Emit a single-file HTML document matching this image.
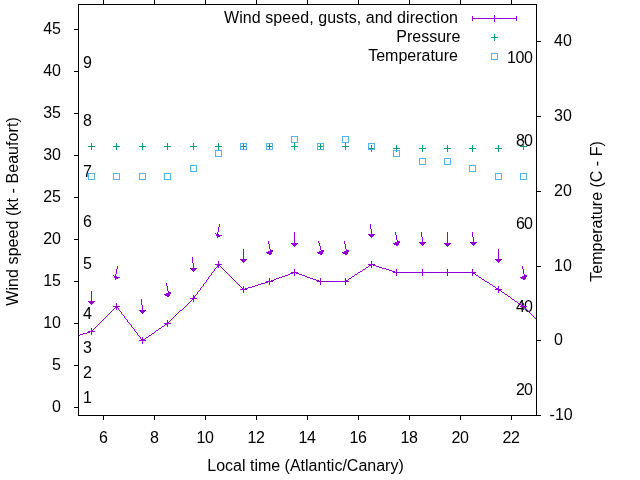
<!DOCTYPE html><html><head><meta charset="utf-8"><style>html,body{margin:0;padding:0;background:#fff;width:640px;height:480px;overflow:hidden}svg{display:block;will-change:transform}text{font-family:"Liberation Sans",sans-serif;font-size:16px;fill:#000}</style></head><body><svg width="640" height="480" viewBox="0 0 640 480"><rect x="0" y="0" width="640" height="480" fill="#fff"/><path d="M103 0h1v1h-1zM154 0h1v1h-1zM205 0h1v1h-1zM256 0h1v1h-1zM307 0h1v1h-1zM358 0h1v1h-1zM409 0h1v1h-1zM460 0h1v1h-1zM511 0h1v1h-1zM103 1h1v1h-1zM154 1h1v1h-1zM205 1h1v1h-1zM256 1h1v1h-1zM307 1h1v1h-1zM358 1h1v1h-1zM409 1h1v1h-1zM460 1h1v1h-1zM511 1h1v1h-1zM103 2h1v1h-1zM154 2h1v1h-1zM205 2h1v1h-1zM256 2h1v1h-1zM307 2h1v1h-1zM358 2h1v1h-1zM409 2h1v1h-1zM460 2h1v1h-1zM511 2h1v1h-1zM103 3h1v1h-1zM154 3h1v1h-1zM205 3h1v1h-1zM256 3h1v1h-1zM307 3h1v1h-1zM358 3h1v1h-1zM409 3h1v1h-1zM460 3h1v1h-1zM511 3h1v1h-1zM78 4h459v1h-459zM78 5h1v1h-1zM536 5h1v1h-1zM78 6h1v1h-1zM536 6h1v1h-1zM78 7h1v1h-1zM536 7h1v1h-1zM78 8h1v1h-1zM536 8h1v1h-1zM78 9h1v1h-1zM536 9h1v1h-1zM78 10h1v1h-1zM536 10h1v1h-1zM78 11h1v1h-1zM536 11h1v1h-1zM78 12h1v1h-1zM536 12h1v1h-1zM78 13h1v1h-1zM536 13h1v1h-1zM78 14h1v1h-1zM536 14h1v1h-1zM78 15h1v1h-1zM536 15h1v1h-1zM78 16h1v1h-1zM536 16h1v1h-1zM78 17h1v1h-1zM536 17h1v1h-1zM78 18h1v1h-1zM536 18h1v1h-1zM78 19h1v1h-1zM536 19h1v1h-1zM78 20h1v1h-1zM536 20h1v1h-1zM78 21h1v1h-1zM536 21h1v1h-1zM78 22h1v1h-1zM536 22h1v1h-1zM78 23h1v1h-1zM536 23h1v1h-1zM78 24h1v1h-1zM536 24h1v1h-1zM78 25h1v1h-1zM536 25h1v1h-1zM78 26h1v1h-1zM536 26h1v1h-1zM78 27h1v1h-1zM536 27h1v1h-1zM78 28h1v1h-1zM536 28h1v1h-1zM74 29h5v1h-5zM536 29h1v1h-1zM78 30h1v1h-1zM536 30h1v1h-1zM78 31h1v1h-1zM536 31h1v1h-1zM78 32h1v1h-1zM536 32h1v1h-1zM78 33h1v1h-1zM536 33h1v1h-1zM78 34h1v1h-1zM536 34h1v1h-1zM78 35h1v1h-1zM536 35h1v1h-1zM78 36h1v1h-1zM536 36h1v1h-1zM78 37h1v1h-1zM536 37h1v1h-1zM78 38h1v1h-1zM536 38h1v1h-1zM78 39h1v1h-1zM536 39h1v1h-1zM78 40h1v1h-1zM536 40h1v1h-1zM78 41h1v1h-1zM536 41h5v1h-5zM78 42h1v1h-1zM536 42h1v1h-1zM78 43h1v1h-1zM536 43h1v1h-1zM78 44h1v1h-1zM536 44h1v1h-1zM78 45h1v1h-1zM536 45h1v1h-1zM78 46h1v1h-1zM536 46h1v1h-1zM78 47h1v1h-1zM536 47h1v1h-1zM78 48h1v1h-1zM536 48h1v1h-1zM78 49h1v1h-1zM536 49h1v1h-1zM78 50h1v1h-1zM536 50h1v1h-1zM78 51h1v1h-1zM536 51h1v1h-1zM78 52h1v1h-1zM536 52h1v1h-1zM78 53h1v1h-1zM536 53h1v1h-1zM78 54h1v1h-1zM536 54h1v1h-1zM78 55h1v1h-1zM536 55h1v1h-1zM78 56h1v1h-1zM536 56h1v1h-1zM78 57h1v1h-1zM536 57h1v1h-1zM78 58h1v1h-1zM536 58h1v1h-1zM78 59h1v1h-1zM536 59h1v1h-1zM78 60h1v1h-1zM536 60h1v1h-1zM78 61h1v1h-1zM536 61h1v1h-1zM78 62h1v1h-1zM536 62h1v1h-1zM78 63h1v1h-1zM536 63h1v1h-1zM78 64h1v1h-1zM536 64h1v1h-1zM78 65h1v1h-1zM536 65h1v1h-1zM78 66h1v1h-1zM536 66h1v1h-1zM78 67h1v1h-1zM536 67h1v1h-1zM78 68h1v1h-1zM536 68h1v1h-1zM78 69h1v1h-1zM536 69h1v1h-1zM78 70h1v1h-1zM536 70h1v1h-1zM74 71h5v1h-5zM536 71h1v1h-1zM78 72h1v1h-1zM536 72h1v1h-1zM78 73h1v1h-1zM536 73h1v1h-1zM78 74h1v1h-1zM536 74h1v1h-1zM78 75h1v1h-1zM536 75h1v1h-1zM78 76h1v1h-1zM536 76h1v1h-1zM78 77h1v1h-1zM536 77h1v1h-1zM78 78h1v1h-1zM536 78h1v1h-1zM78 79h1v1h-1zM536 79h1v1h-1zM78 80h1v1h-1zM536 80h1v1h-1zM78 81h1v1h-1zM536 81h1v1h-1zM78 82h1v1h-1zM536 82h1v1h-1zM78 83h1v1h-1zM536 83h1v1h-1zM78 84h1v1h-1zM536 84h1v1h-1zM78 85h1v1h-1zM536 85h1v1h-1zM78 86h1v1h-1zM536 86h1v1h-1zM78 87h1v1h-1zM536 87h1v1h-1zM78 88h1v1h-1zM536 88h1v1h-1zM78 89h1v1h-1zM536 89h1v1h-1zM78 90h1v1h-1zM536 90h1v1h-1zM78 91h1v1h-1zM536 91h1v1h-1zM78 92h1v1h-1zM536 92h1v1h-1zM78 93h1v1h-1zM536 93h1v1h-1zM78 94h1v1h-1zM536 94h1v1h-1zM78 95h1v1h-1zM536 95h1v1h-1zM78 96h1v1h-1zM536 96h1v1h-1zM78 97h1v1h-1zM536 97h1v1h-1zM78 98h1v1h-1zM536 98h1v1h-1zM78 99h1v1h-1zM536 99h1v1h-1zM78 100h1v1h-1zM536 100h1v1h-1zM78 101h1v1h-1zM536 101h1v1h-1zM78 102h1v1h-1zM536 102h1v1h-1zM78 103h1v1h-1zM536 103h1v1h-1zM78 104h1v1h-1zM536 104h1v1h-1zM78 105h1v1h-1zM536 105h1v1h-1zM78 106h1v1h-1zM536 106h1v1h-1zM78 107h1v1h-1zM536 107h1v1h-1zM78 108h1v1h-1zM536 108h1v1h-1zM78 109h1v1h-1zM536 109h1v1h-1zM78 110h1v1h-1zM536 110h1v1h-1zM78 111h1v1h-1zM536 111h1v1h-1zM78 112h1v1h-1zM536 112h1v1h-1zM74 113h5v1h-5zM536 113h1v1h-1zM78 114h1v1h-1zM536 114h1v1h-1zM78 115h1v1h-1zM536 115h1v1h-1zM78 116h1v1h-1zM536 116h5v1h-5zM78 117h1v1h-1zM536 117h1v1h-1zM78 118h1v1h-1zM536 118h1v1h-1zM78 119h1v1h-1zM536 119h1v1h-1zM78 120h1v1h-1zM536 120h1v1h-1zM78 121h1v1h-1zM536 121h1v1h-1zM78 122h1v1h-1zM536 122h1v1h-1zM78 123h1v1h-1zM536 123h1v1h-1zM78 124h1v1h-1zM536 124h1v1h-1zM78 125h1v1h-1zM536 125h1v1h-1zM78 126h1v1h-1zM536 126h1v1h-1zM78 127h1v1h-1zM536 127h1v1h-1zM78 128h1v1h-1zM536 128h1v1h-1zM78 129h1v1h-1zM536 129h1v1h-1zM78 130h1v1h-1zM536 130h1v1h-1zM78 131h1v1h-1zM536 131h1v1h-1zM78 132h1v1h-1zM536 132h1v1h-1zM78 133h1v1h-1zM536 133h1v1h-1zM78 134h1v1h-1zM536 134h1v1h-1zM78 135h1v1h-1zM536 135h1v1h-1zM78 136h1v1h-1zM536 136h1v1h-1zM78 137h1v1h-1zM536 137h1v1h-1zM78 138h1v1h-1zM536 138h1v1h-1zM78 139h1v1h-1zM536 139h1v1h-1zM78 140h1v1h-1zM536 140h1v1h-1zM78 141h1v1h-1zM536 141h1v1h-1zM78 142h1v1h-1zM536 142h1v1h-1zM78 143h1v1h-1zM536 143h1v1h-1zM78 144h1v1h-1zM536 144h1v1h-1zM78 145h1v1h-1zM536 145h1v1h-1zM78 146h1v1h-1zM536 146h1v1h-1zM78 147h1v1h-1zM536 147h1v1h-1zM78 148h1v1h-1zM536 148h1v1h-1zM78 149h1v1h-1zM536 149h1v1h-1zM78 150h1v1h-1zM536 150h1v1h-1zM78 151h1v1h-1zM536 151h1v1h-1zM78 152h1v1h-1zM536 152h1v1h-1zM78 153h1v1h-1zM536 153h1v1h-1zM78 154h1v1h-1zM536 154h1v1h-1zM74 155h5v1h-5zM536 155h1v1h-1zM78 156h1v1h-1zM536 156h1v1h-1zM78 157h1v1h-1zM536 157h1v1h-1zM78 158h1v1h-1zM536 158h1v1h-1zM78 159h1v1h-1zM536 159h1v1h-1zM78 160h1v1h-1zM536 160h1v1h-1zM78 161h1v1h-1zM536 161h1v1h-1zM78 162h1v1h-1zM536 162h1v1h-1zM78 163h1v1h-1zM536 163h1v1h-1zM78 164h1v1h-1zM536 164h1v1h-1zM78 165h1v1h-1zM536 165h1v1h-1zM78 166h1v1h-1zM536 166h1v1h-1zM78 167h1v1h-1zM536 167h1v1h-1zM78 168h1v1h-1zM536 168h1v1h-1zM78 169h1v1h-1zM536 169h1v1h-1zM78 170h1v1h-1zM536 170h1v1h-1zM78 171h1v1h-1zM536 171h1v1h-1zM78 172h1v1h-1zM536 172h1v1h-1zM78 173h1v1h-1zM536 173h1v1h-1zM78 174h1v1h-1zM536 174h1v1h-1zM78 175h1v1h-1zM536 175h1v1h-1zM78 176h1v1h-1zM536 176h1v1h-1zM78 177h1v1h-1zM536 177h1v1h-1zM78 178h1v1h-1zM536 178h1v1h-1zM78 179h1v1h-1zM536 179h1v1h-1zM78 180h1v1h-1zM536 180h1v1h-1zM78 181h1v1h-1zM536 181h1v1h-1zM78 182h1v1h-1zM536 182h1v1h-1zM78 183h1v1h-1zM536 183h1v1h-1zM78 184h1v1h-1zM536 184h1v1h-1zM78 185h1v1h-1zM536 185h1v1h-1zM78 186h1v1h-1zM536 186h1v1h-1zM78 187h1v1h-1zM536 187h1v1h-1zM78 188h1v1h-1zM536 188h1v1h-1zM78 189h1v1h-1zM536 189h1v1h-1zM78 190h1v1h-1zM536 190h1v1h-1zM78 191h1v1h-1zM536 191h5v1h-5zM78 192h1v1h-1zM536 192h1v1h-1zM78 193h1v1h-1zM536 193h1v1h-1zM78 194h1v1h-1zM536 194h1v1h-1zM78 195h1v1h-1zM536 195h1v1h-1zM78 196h1v1h-1zM536 196h1v1h-1zM74 197h5v1h-5zM536 197h1v1h-1zM78 198h1v1h-1zM536 198h1v1h-1zM78 199h1v1h-1zM536 199h1v1h-1zM78 200h1v1h-1zM536 200h1v1h-1zM78 201h1v1h-1zM536 201h1v1h-1zM78 202h1v1h-1zM536 202h1v1h-1zM78 203h1v1h-1zM536 203h1v1h-1zM78 204h1v1h-1zM536 204h1v1h-1zM78 205h1v1h-1zM536 205h1v1h-1zM78 206h1v1h-1zM536 206h1v1h-1zM78 207h1v1h-1zM536 207h1v1h-1zM78 208h1v1h-1zM536 208h1v1h-1zM78 209h1v1h-1zM536 209h1v1h-1zM78 210h1v1h-1zM536 210h1v1h-1zM78 211h1v1h-1zM536 211h1v1h-1zM78 212h1v1h-1zM536 212h1v1h-1zM78 213h1v1h-1zM536 213h1v1h-1zM78 214h1v1h-1zM536 214h1v1h-1zM78 215h1v1h-1zM536 215h1v1h-1zM78 216h1v1h-1zM536 216h1v1h-1zM78 217h1v1h-1zM536 217h1v1h-1zM78 218h1v1h-1zM536 218h1v1h-1zM78 219h1v1h-1zM536 219h1v1h-1zM78 220h1v1h-1zM536 220h1v1h-1zM78 221h1v1h-1zM536 221h1v1h-1zM78 222h1v1h-1zM536 222h1v1h-1zM78 223h1v1h-1zM536 223h1v1h-1zM78 224h1v1h-1zM536 224h1v1h-1zM78 225h1v1h-1zM536 225h1v1h-1zM78 226h1v1h-1zM536 226h1v1h-1zM78 227h1v1h-1zM536 227h1v1h-1zM78 228h1v1h-1zM536 228h1v1h-1zM78 229h1v1h-1zM536 229h1v1h-1zM78 230h1v1h-1zM536 230h1v1h-1zM78 231h1v1h-1zM536 231h1v1h-1zM78 232h1v1h-1zM536 232h1v1h-1zM78 233h1v1h-1zM536 233h1v1h-1zM78 234h1v1h-1zM536 234h1v1h-1zM78 235h1v1h-1zM536 235h1v1h-1zM78 236h1v1h-1zM536 236h1v1h-1zM78 237h1v1h-1zM536 237h1v1h-1zM78 238h1v1h-1zM536 238h1v1h-1zM74 239h5v1h-5zM536 239h1v1h-1zM78 240h1v1h-1zM536 240h1v1h-1zM78 241h1v1h-1zM536 241h1v1h-1zM78 242h1v1h-1zM536 242h1v1h-1zM78 243h1v1h-1zM536 243h1v1h-1zM78 244h1v1h-1zM536 244h1v1h-1zM78 245h1v1h-1zM536 245h1v1h-1zM78 246h1v1h-1zM536 246h1v1h-1zM78 247h1v1h-1zM536 247h1v1h-1zM78 248h1v1h-1zM536 248h1v1h-1zM78 249h1v1h-1zM536 249h1v1h-1zM78 250h1v1h-1zM536 250h1v1h-1zM78 251h1v1h-1zM536 251h1v1h-1zM78 252h1v1h-1zM536 252h1v1h-1zM78 253h1v1h-1zM536 253h1v1h-1zM78 254h1v1h-1zM536 254h1v1h-1zM78 255h1v1h-1zM536 255h1v1h-1zM78 256h1v1h-1zM536 256h1v1h-1zM78 257h1v1h-1zM536 257h1v1h-1zM78 258h1v1h-1zM536 258h1v1h-1zM78 259h1v1h-1zM536 259h1v1h-1zM78 260h1v1h-1zM536 260h1v1h-1zM78 261h1v1h-1zM536 261h1v1h-1zM78 262h1v1h-1zM536 262h1v1h-1zM78 263h1v1h-1zM536 263h1v1h-1zM78 264h1v1h-1zM536 264h1v1h-1zM78 265h1v1h-1zM536 265h1v1h-1zM78 266h1v1h-1zM536 266h5v1h-5zM78 267h1v1h-1zM536 267h1v1h-1zM78 268h1v1h-1zM536 268h1v1h-1zM78 269h1v1h-1zM536 269h1v1h-1zM78 270h1v1h-1zM536 270h1v1h-1zM78 271h1v1h-1zM536 271h1v1h-1zM78 272h1v1h-1zM536 272h1v1h-1zM78 273h1v1h-1zM536 273h1v1h-1zM78 274h1v1h-1zM536 274h1v1h-1zM78 275h1v1h-1zM536 275h1v1h-1zM78 276h1v1h-1zM536 276h1v1h-1zM78 277h1v1h-1zM536 277h1v1h-1zM78 278h1v1h-1zM536 278h1v1h-1zM78 279h1v1h-1zM536 279h1v1h-1zM78 280h1v1h-1zM536 280h1v1h-1zM74 281h5v1h-5zM536 281h1v1h-1zM78 282h1v1h-1zM536 282h1v1h-1zM78 283h1v1h-1zM536 283h1v1h-1zM78 284h1v1h-1zM536 284h1v1h-1zM78 285h1v1h-1zM536 285h1v1h-1zM78 286h1v1h-1zM536 286h1v1h-1zM78 287h1v1h-1zM536 287h1v1h-1zM78 288h1v1h-1zM536 288h1v1h-1zM78 289h1v1h-1zM536 289h1v1h-1zM78 290h1v1h-1zM536 290h1v1h-1zM78 291h1v1h-1zM536 291h1v1h-1zM78 292h1v1h-1zM536 292h1v1h-1zM78 293h1v1h-1zM536 293h1v1h-1zM78 294h1v1h-1zM536 294h1v1h-1zM78 295h1v1h-1zM536 295h1v1h-1zM78 296h1v1h-1zM536 296h1v1h-1zM78 297h1v1h-1zM536 297h1v1h-1zM78 298h1v1h-1zM536 298h1v1h-1zM78 299h1v1h-1zM536 299h1v1h-1zM78 300h1v1h-1zM536 300h1v1h-1zM78 301h1v1h-1zM536 301h1v1h-1zM78 302h1v1h-1zM536 302h1v1h-1zM78 303h1v1h-1zM536 303h1v1h-1zM78 304h1v1h-1zM536 304h1v1h-1zM78 305h1v1h-1zM536 305h1v1h-1zM78 306h1v1h-1zM536 306h1v1h-1zM78 307h1v1h-1zM536 307h1v1h-1zM78 308h1v1h-1zM536 308h1v1h-1zM78 309h1v1h-1zM536 309h1v1h-1zM78 310h1v1h-1zM536 310h1v1h-1zM78 311h1v1h-1zM536 311h1v1h-1zM78 312h1v1h-1zM536 312h1v1h-1zM78 313h1v1h-1zM536 313h1v1h-1zM78 314h1v1h-1zM536 314h1v1h-1zM78 315h1v1h-1zM536 315h1v1h-1zM78 316h1v1h-1zM536 316h1v1h-1zM78 317h1v1h-1zM536 317h1v1h-1zM78 318h1v1h-1zM536 318h1v1h-1zM78 319h1v1h-1zM536 319h1v1h-1zM78 320h1v1h-1zM536 320h1v1h-1zM78 321h1v1h-1zM536 321h1v1h-1zM78 322h1v1h-1zM536 322h1v1h-1zM74 323h5v1h-5zM536 323h1v1h-1zM78 324h1v1h-1zM536 324h1v1h-1zM78 325h1v1h-1zM536 325h1v1h-1zM78 326h1v1h-1zM536 326h1v1h-1zM78 327h1v1h-1zM536 327h1v1h-1zM78 328h1v1h-1zM536 328h1v1h-1zM78 329h1v1h-1zM536 329h1v1h-1zM78 330h1v1h-1zM536 330h1v1h-1zM78 331h1v1h-1zM536 331h1v1h-1zM78 332h1v1h-1zM536 332h1v1h-1zM78 333h1v1h-1zM536 333h1v1h-1zM78 334h1v1h-1zM536 334h1v1h-1zM78 335h1v1h-1zM536 335h1v1h-1zM78 336h1v1h-1zM536 336h1v1h-1zM78 337h1v1h-1zM536 337h1v1h-1zM78 338h1v1h-1zM536 338h1v1h-1zM78 339h1v1h-1zM536 339h1v1h-1zM78 340h1v1h-1zM536 340h5v1h-5zM78 341h1v1h-1zM536 341h1v1h-1zM78 342h1v1h-1zM536 342h1v1h-1zM78 343h1v1h-1zM536 343h1v1h-1zM78 344h1v1h-1zM536 344h1v1h-1zM78 345h1v1h-1zM536 345h1v1h-1zM78 346h1v1h-1zM536 346h1v1h-1zM78 347h1v1h-1zM536 347h1v1h-1zM78 348h1v1h-1zM536 348h1v1h-1zM78 349h1v1h-1zM536 349h1v1h-1zM78 350h1v1h-1zM536 350h1v1h-1zM78 351h1v1h-1zM536 351h1v1h-1zM78 352h1v1h-1zM536 352h1v1h-1zM78 353h1v1h-1zM536 353h1v1h-1zM78 354h1v1h-1zM536 354h1v1h-1zM78 355h1v1h-1zM536 355h1v1h-1zM78 356h1v1h-1zM536 356h1v1h-1zM78 357h1v1h-1zM536 357h1v1h-1zM78 358h1v1h-1zM536 358h1v1h-1zM78 359h1v1h-1zM536 359h1v1h-1zM78 360h1v1h-1zM536 360h1v1h-1zM78 361h1v1h-1zM536 361h1v1h-1zM78 362h1v1h-1zM536 362h1v1h-1zM78 363h1v1h-1zM536 363h1v1h-1zM78 364h1v1h-1zM536 364h1v1h-1zM74 365h5v1h-5zM536 365h1v1h-1zM78 366h1v1h-1zM536 366h1v1h-1zM78 367h1v1h-1zM536 367h1v1h-1zM78 368h1v1h-1zM536 368h1v1h-1zM78 369h1v1h-1zM536 369h1v1h-1zM78 370h1v1h-1zM536 370h1v1h-1zM78 371h1v1h-1zM536 371h1v1h-1zM78 372h1v1h-1zM536 372h1v1h-1zM78 373h1v1h-1zM536 373h1v1h-1zM78 374h1v1h-1zM536 374h1v1h-1zM78 375h1v1h-1zM536 375h1v1h-1zM78 376h1v1h-1zM536 376h1v1h-1zM78 377h1v1h-1zM536 377h1v1h-1zM78 378h1v1h-1zM536 378h1v1h-1zM78 379h1v1h-1zM536 379h1v1h-1zM78 380h1v1h-1zM536 380h1v1h-1zM78 381h1v1h-1zM536 381h1v1h-1zM78 382h1v1h-1zM536 382h1v1h-1zM78 383h1v1h-1zM536 383h1v1h-1zM78 384h1v1h-1zM536 384h1v1h-1zM78 385h1v1h-1zM536 385h1v1h-1zM78 386h1v1h-1zM536 386h1v1h-1zM78 387h1v1h-1zM536 387h1v1h-1zM78 388h1v1h-1zM536 388h1v1h-1zM78 389h1v1h-1zM536 389h1v1h-1zM78 390h1v1h-1zM536 390h1v1h-1zM78 391h1v1h-1zM536 391h1v1h-1zM78 392h1v1h-1zM536 392h1v1h-1zM78 393h1v1h-1zM536 393h1v1h-1zM78 394h1v1h-1zM536 394h1v1h-1zM78 395h1v1h-1zM536 395h1v1h-1zM78 396h1v1h-1zM536 396h1v1h-1zM78 397h1v1h-1zM536 397h1v1h-1zM78 398h1v1h-1zM536 398h1v1h-1zM78 399h1v1h-1zM536 399h1v1h-1zM78 400h1v1h-1zM536 400h1v1h-1zM78 401h1v1h-1zM536 401h1v1h-1zM78 402h1v1h-1zM536 402h1v1h-1zM78 403h1v1h-1zM536 403h1v1h-1zM78 404h1v1h-1zM536 404h1v1h-1zM78 405h1v1h-1zM536 405h1v1h-1zM78 406h1v1h-1zM536 406h1v1h-1zM74 407h5v1h-5zM536 407h1v1h-1zM78 408h1v1h-1zM536 408h1v1h-1zM78 409h1v1h-1zM536 409h1v1h-1zM78 410h1v1h-1zM536 410h1v1h-1zM78 411h1v1h-1zM536 411h1v1h-1zM78 412h1v1h-1zM536 412h1v1h-1zM78 413h1v1h-1zM536 413h1v1h-1zM78 414h1v1h-1zM536 414h1v1h-1zM78 415h463v1h-463zM103 416h1v1h-1zM154 416h1v1h-1zM205 416h1v1h-1zM256 416h1v1h-1zM307 416h1v1h-1zM358 416h1v1h-1zM409 416h1v1h-1zM460 416h1v1h-1zM511 416h1v1h-1zM103 417h1v1h-1zM154 417h1v1h-1zM205 417h1v1h-1zM256 417h1v1h-1zM307 417h1v1h-1zM358 417h1v1h-1zM409 417h1v1h-1zM460 417h1v1h-1zM511 417h1v1h-1zM103 418h1v1h-1zM154 418h1v1h-1zM205 418h1v1h-1zM256 418h1v1h-1zM307 418h1v1h-1zM358 418h1v1h-1zM409 418h1v1h-1zM460 418h1v1h-1zM511 418h1v1h-1zM103 419h1v1h-1zM154 419h1v1h-1zM205 419h1v1h-1zM256 419h1v1h-1zM307 419h1v1h-1zM358 419h1v1h-1zM409 419h1v1h-1zM460 419h1v1h-1zM511 419h1v1h-1z" fill="#000" shape-rendering="crispEdges"/><text x="61" y="412" text-anchor="end">0</text><text x="61" y="370" text-anchor="end">5</text><text x="61" y="328" text-anchor="end">10</text><text x="61" y="286" text-anchor="end">15</text><text x="61" y="244" text-anchor="end">20</text><text x="61" y="202" text-anchor="end">25</text><text x="61" y="160" text-anchor="end">30</text><text x="61" y="118" text-anchor="end">35</text><text x="61" y="76" text-anchor="end">40</text><text x="61" y="34" text-anchor="end">45</text><text x="103.5" y="443" text-anchor="middle">6</text><text x="154.5" y="443" text-anchor="middle">8</text><text x="205.1" y="443" text-anchor="middle" textLength="17.4" lengthAdjust="spacing">10</text><text x="256.1" y="443" text-anchor="middle" textLength="17.4" lengthAdjust="spacing">12</text><text x="307.1" y="443" text-anchor="middle" textLength="17.4" lengthAdjust="spacing">14</text><text x="358.1" y="443" text-anchor="middle" textLength="17.4" lengthAdjust="spacing">16</text><text x="409.1" y="443" text-anchor="middle" textLength="17.4" lengthAdjust="spacing">18</text><text x="460.1" y="443" text-anchor="middle" textLength="17.4" lengthAdjust="spacing">20</text><text x="511.1" y="443" text-anchor="middle" textLength="17.4" lengthAdjust="spacing">22</text><text x="549.6" y="420" text-anchor="start" xml:space="preserve">-10</text><text x="549.6" y="345" text-anchor="start" xml:space="preserve"> 0</text><text x="549.6" y="271" text-anchor="start" xml:space="preserve"> 10</text><text x="549.6" y="196" text-anchor="start" xml:space="preserve"> 20</text><text x="549.6" y="121" text-anchor="start" xml:space="preserve"> 30</text><text x="549.6" y="46" text-anchor="start" xml:space="preserve"> 40</text><text x="305.5" y="470.5" text-anchor="middle">Local time (Atlantic/Canary)</text><text transform="translate(18,211.45) rotate(-90)" text-anchor="middle" textLength="188.5" lengthAdjust="spacing">Wind speed (kt - Beaufort)</text><text transform="translate(602,211.5) rotate(-90)" text-anchor="middle">Temperature (C - F)</text><text x="458" y="22.5" text-anchor="end" textLength="233.9" lengthAdjust="spacing">Wind speed, gusts, and direction</text><text x="460.3" y="42.4" text-anchor="end">Pressure</text><text x="458" y="60.9" text-anchor="end">Temperature</text><text x="83" y="403.1" text-anchor="start">1</text><text x="83" y="378.1" text-anchor="start">2</text><text x="83" y="352.9" text-anchor="start">3</text><text x="83" y="318.5" text-anchor="start">4</text><text x="83" y="268.9" text-anchor="start">5</text><text x="83" y="226.7" text-anchor="start">6</text><text x="83" y="176.7" text-anchor="start">7</text><text x="83" y="125.5" text-anchor="start">8</text><text x="83" y="67.5" text-anchor="start">9</text><text x="533" y="394.5" text-anchor="end" textLength="17.0" lengthAdjust="spacing">20</text><text x="533" y="311.9" text-anchor="end" textLength="17.0" lengthAdjust="spacing">40</text><text x="533" y="229.2" text-anchor="end" textLength="17.0" lengthAdjust="spacing">60</text><text x="533" y="145.5" text-anchor="end" textLength="17.0" lengthAdjust="spacing">80</text><text x="533" y="62.5" text-anchor="end" textLength="25.9" lengthAdjust="spacing">100</text><path d="M494 15h1v1h-1zM472 16h1v1h-1zM494 16h1v1h-1zM516 16h1v1h-1zM472 17h1v1h-1zM494 17h1v1h-1zM516 17h1v1h-1zM472 18h45v1h-45zM472 19h1v1h-1zM494 19h1v1h-1zM516 19h1v1h-1zM472 20h1v1h-1zM494 20h1v1h-1zM516 20h1v1h-1zM494 21h1v1h-1zM219 224h1v1h-1zM370 224h1v1h-1zM219 225h1v1h-1zM370 225h1v1h-1zM219 226h1v1h-1zM370 226h1v1h-1zM218 227h1v1h-1zM370 227h1v1h-1zM218 228h1v1h-1zM370 228h1v1h-1zM218 229h1v1h-1zM371 229h1v1h-1zM218 230h1v1h-1zM371 230h1v1h-1zM218 231h1v1h-1zM371 231h1v1h-1zM217 232h1v1h-1zM294 232h1v1h-1zM371 232h1v1h-1zM395 232h1v1h-1zM421 232h1v1h-1zM447 232h1v1h-1zM472 232h1v1h-1zM215 233h1v1h-1zM217 233h1v1h-1zM294 233h1v1h-1zM371 233h1v1h-1zM395 233h1v1h-1zM421 233h1v1h-1zM447 233h1v1h-1zM472 233h1v1h-1zM216 234h3v1h-3zM294 234h1v1h-1zM368 234h7v1h-7zM395 234h1v1h-1zM421 234h1v1h-1zM447 234h1v1h-1zM472 234h1v1h-1zM216 235h6v1h-6zM294 235h1v1h-1zM369 235h5v1h-5zM396 235h1v1h-1zM421 235h1v1h-1zM447 235h1v1h-1zM472 235h1v1h-1zM217 236h3v1h-3zM294 236h1v1h-1zM370 236h3v1h-3zM396 236h1v1h-1zM421 236h1v1h-1zM447 236h1v1h-1zM472 236h1v1h-1zM217 237h1v1h-1zM294 237h1v1h-1zM371 237h1v1h-1zM396 237h1v1h-1zM422 237h1v1h-1zM447 237h1v1h-1zM473 237h1v1h-1zM294 238h1v1h-1zM396 238h1v1h-1zM422 238h1v1h-1zM447 238h1v1h-1zM473 238h1v1h-1zM294 239h1v1h-1zM396 239h1v1h-1zM422 239h1v1h-1zM447 239h1v1h-1zM473 239h1v1h-1zM294 240h1v1h-1zM397 240h1v1h-1zM422 240h1v1h-1zM447 240h1v1h-1zM473 240h1v1h-1zM268 241h1v1h-1zM294 241h1v1h-1zM318 241h1v1h-1zM344 241h1v1h-1zM397 241h3v1h-3zM422 241h1v1h-1zM447 241h1v1h-1zM473 241h1v1h-1zM268 242h1v1h-1zM294 242h1v1h-1zM318 242h1v1h-1zM344 242h1v1h-1zM395 242h5v1h-5zM419 242h7v1h-7zM447 242h1v1h-1zM470 242h7v1h-7zM268 243h1v1h-1zM291 243h7v1h-7zM319 243h1v1h-1zM344 243h1v1h-1zM393 243h6v1h-6zM420 243h5v1h-5zM444 243h7v1h-7zM471 243h5v1h-5zM269 244h1v1h-1zM292 244h5v1h-5zM319 244h1v1h-1zM345 244h1v1h-1zM394 244h5v1h-5zM421 244h3v1h-3zM445 244h5v1h-5zM472 244h3v1h-3zM269 245h1v1h-1zM293 245h3v1h-3zM319 245h1v1h-1zM345 245h1v1h-1zM396 245h2v1h-2zM422 245h1v1h-1zM446 245h3v1h-3zM473 245h1v1h-1zM269 246h1v1h-1zM294 246h1v1h-1zM320 246h1v1h-1zM345 246h1v1h-1zM447 246h1v1h-1zM269 247h1v1h-1zM320 247h1v1h-1zM345 247h1v1h-1zM269 248h1v1h-1zM320 248h1v1h-1zM345 248h1v1h-1zM243 249h1v1h-1zM270 249h1v1h-1zM320 249h1v1h-1zM346 249h1v1h-1zM498 249h1v1h-1zM243 250h1v1h-1zM270 250h3v1h-3zM321 250h3v1h-3zM346 250h3v1h-3zM498 250h1v1h-1zM243 251h1v1h-1zM268 251h5v1h-5zM319 251h5v1h-5zM344 251h5v1h-5zM498 251h1v1h-1zM243 252h1v1h-1zM266 252h6v1h-6zM317 252h6v1h-6zM342 252h6v1h-6zM498 252h1v1h-1zM243 253h1v1h-1zM267 253h5v1h-5zM318 253h5v1h-5zM343 253h5v1h-5zM498 253h1v1h-1zM243 254h1v1h-1zM269 254h2v1h-2zM320 254h2v1h-2zM345 254h2v1h-2zM498 254h1v1h-1zM243 255h1v1h-1zM498 255h1v1h-1zM243 256h1v1h-1zM498 256h1v1h-1zM192 257h1v1h-1zM243 257h1v1h-1zM498 257h1v1h-1zM192 258h1v1h-1zM243 258h1v1h-1zM498 258h1v1h-1zM192 259h1v1h-1zM240 259h7v1h-7zM495 259h7v1h-7zM192 260h1v1h-1zM241 260h5v1h-5zM496 260h5v1h-5zM192 261h1v1h-1zM218 261h1v1h-1zM242 261h3v1h-3zM371 261h1v1h-1zM497 261h3v1h-3zM192 262h1v1h-1zM218 262h1v1h-1zM243 262h1v1h-1zM371 262h1v1h-1zM498 262h1v1h-1zM193 263h1v1h-1zM218 263h1v1h-1zM371 263h1v1h-1zM193 264h1v1h-1zM215 264h7v1h-7zM368 264h7v1h-7zM193 265h1v1h-1zM217 265h3v1h-3zM369 265h3v1h-3zM373 265h3v1h-3zM117 266h1v1h-1zM193 266h1v1h-1zM217 266h2v1h-2zM220 266h1v1h-1zM368 266h1v1h-1zM371 266h1v1h-1zM376 266h3v1h-3zM522 266h1v1h-1zM117 267h1v1h-1zM193 267h1v1h-1zM216 267h1v1h-1zM218 267h1v1h-1zM221 267h1v1h-1zM366 267h2v1h-2zM371 267h1v1h-1zM379 267h3v1h-3zM522 267h1v1h-1zM117 268h1v1h-1zM190 268h7v1h-7zM215 268h1v1h-1zM222 268h1v1h-1zM365 268h1v1h-1zM382 268h4v1h-4zM522 268h1v1h-1zM116 269h1v1h-1zM191 269h5v1h-5zM214 269h1v1h-1zM223 269h1v1h-1zM294 269h1v1h-1zM363 269h2v1h-2zM386 269h3v1h-3zM396 269h1v1h-1zM422 269h1v1h-1zM447 269h1v1h-1zM472 269h1v1h-1zM523 269h1v1h-1zM116 270h1v1h-1zM192 270h3v1h-3zM214 270h1v1h-1zM224 270h1v1h-1zM294 270h1v1h-1zM362 270h1v1h-1zM389 270h3v1h-3zM396 270h1v1h-1zM422 270h1v1h-1zM447 270h1v1h-1zM472 270h1v1h-1zM523 270h1v1h-1zM116 271h1v1h-1zM193 271h1v1h-1zM213 271h1v1h-1zM225 271h1v1h-1zM294 271h1v1h-1zM360 271h2v1h-2zM392 271h3v1h-3zM396 271h1v1h-1zM422 271h1v1h-1zM447 271h1v1h-1zM472 271h1v1h-1zM523 271h1v1h-1zM116 272h1v1h-1zM212 272h1v1h-1zM226 272h1v1h-1zM291 272h7v1h-7zM358 272h2v1h-2zM393 272h83v1h-83zM523 272h1v1h-1zM116 273h1v1h-1zM211 273h1v1h-1zM227 273h1v1h-1zM290 273h3v1h-3zM294 273h1v1h-1zM296 273h3v1h-3zM357 273h1v1h-1zM396 273h1v1h-1zM422 273h1v1h-1zM447 273h1v1h-1zM472 273h3v1h-3zM523 273h1v1h-1zM115 274h1v1h-1zM211 274h1v1h-1zM228 274h1v1h-1zM288 274h2v1h-2zM294 274h1v1h-1zM299 274h3v1h-3zM355 274h2v1h-2zM396 274h1v1h-1zM422 274h1v1h-1zM447 274h1v1h-1zM472 274h1v1h-1zM475 274h1v1h-1zM524 274h1v1h-1zM113 275h1v1h-1zM115 275h1v1h-1zM210 275h1v1h-1zM229 275h1v1h-1zM285 275h3v1h-3zM294 275h1v1h-1zM302 275h3v1h-3zM354 275h1v1h-1zM396 275h1v1h-1zM422 275h1v1h-1zM447 275h1v1h-1zM472 275h1v1h-1zM476 275h2v1h-2zM524 275h3v1h-3zM114 276h3v1h-3zM209 276h1v1h-1zM230 276h1v1h-1zM282 276h3v1h-3zM305 276h2v1h-2zM352 276h2v1h-2zM478 276h1v1h-1zM522 276h5v1h-5zM114 277h6v1h-6zM208 277h1v1h-1zM231 277h1v1h-1zM279 277h3v1h-3zM307 277h3v1h-3zM351 277h1v1h-1zM479 277h2v1h-2zM520 277h6v1h-6zM115 278h3v1h-3zM208 278h1v1h-1zM232 278h1v1h-1zM269 278h1v1h-1zM276 278h3v1h-3zM310 278h3v1h-3zM320 278h1v1h-1zM345 278h1v1h-1zM349 278h2v1h-2zM481 278h1v1h-1zM521 278h5v1h-5zM115 279h1v1h-1zM207 279h1v1h-1zM233 279h1v1h-1zM269 279h1v1h-1zM274 279h2v1h-2zM313 279h3v1h-3zM320 279h1v1h-1zM345 279h1v1h-1zM348 279h1v1h-1zM482 279h2v1h-2zM523 279h2v1h-2zM206 280h1v1h-1zM234 280h1v1h-1zM269 280h1v1h-1zM271 280h3v1h-3zM316 280h3v1h-3zM320 280h1v1h-1zM345 280h3v1h-3zM484 280h1v1h-1zM206 281h1v1h-1zM235 281h1v1h-1zM266 281h7v1h-7zM317 281h32v1h-32zM485 281h2v1h-2zM205 282h1v1h-1zM236 282h1v1h-1zM265 282h3v1h-3zM269 282h1v1h-1zM320 282h1v1h-1zM345 282h1v1h-1zM487 282h2v1h-2zM166 283h1v1h-1zM204 283h1v1h-1zM237 283h1v1h-1zM261 283h4v1h-4zM269 283h1v1h-1zM320 283h1v1h-1zM345 283h1v1h-1zM489 283h1v1h-1zM166 284h1v1h-1zM203 284h1v1h-1zM238 284h1v1h-1zM258 284h3v1h-3zM269 284h1v1h-1zM320 284h1v1h-1zM345 284h1v1h-1zM490 284h2v1h-2zM166 285h1v1h-1zM203 285h1v1h-1zM239 285h1v1h-1zM255 285h3v1h-3zM492 285h1v1h-1zM167 286h1v1h-1zM202 286h1v1h-1zM240 286h1v1h-1zM243 286h1v1h-1zM252 286h3v1h-3zM493 286h2v1h-2zM498 286h1v1h-1zM167 287h1v1h-1zM201 287h1v1h-1zM241 287h1v1h-1zM243 287h1v1h-1zM248 287h4v1h-4zM495 287h1v1h-1zM498 287h1v1h-1zM167 288h1v1h-1zM200 288h1v1h-1zM242 288h2v1h-2zM245 288h3v1h-3zM496 288h3v1h-3zM167 289h1v1h-1zM200 289h1v1h-1zM240 289h7v1h-7zM495 289h7v1h-7zM167 290h1v1h-1zM199 290h1v1h-1zM243 290h1v1h-1zM498 290h3v1h-3zM91 291h1v1h-1zM168 291h1v1h-1zM198 291h1v1h-1zM243 291h1v1h-1zM498 291h1v1h-1zM501 291h1v1h-1zM91 292h1v1h-1zM168 292h3v1h-3zM197 292h1v1h-1zM243 292h1v1h-1zM498 292h1v1h-1zM502 292h2v1h-2zM91 293h1v1h-1zM166 293h5v1h-5zM197 293h1v1h-1zM504 293h1v1h-1zM91 294h1v1h-1zM164 294h6v1h-6zM196 294h1v1h-1zM505 294h2v1h-2zM91 295h1v1h-1zM165 295h5v1h-5zM193 295h1v1h-1zM195 295h1v1h-1zM507 295h1v1h-1zM91 296h1v1h-1zM167 296h2v1h-2zM193 296h2v1h-2zM508 296h2v1h-2zM91 297h1v1h-1zM193 297h2v1h-2zM510 297h1v1h-1zM91 298h1v1h-1zM190 298h7v1h-7zM511 298h1v1h-1zM91 299h1v1h-1zM141 299h1v1h-1zM192 299h2v1h-2zM512 299h2v1h-2zM91 300h1v1h-1zM141 300h1v1h-1zM191 300h1v1h-1zM193 300h1v1h-1zM514 300h1v1h-1zM88 301h7v1h-7zM141 301h1v1h-1zM190 301h1v1h-1zM193 301h1v1h-1zM515 301h2v1h-2zM89 302h5v1h-5zM141 302h1v1h-1zM189 302h1v1h-1zM517 302h1v1h-1zM90 303h3v1h-3zM116 303h1v1h-1zM141 303h1v1h-1zM188 303h1v1h-1zM518 303h2v1h-2zM523 303h1v1h-1zM91 304h1v1h-1zM116 304h1v1h-1zM141 304h1v1h-1zM187 304h1v1h-1zM520 304h1v1h-1zM523 304h1v1h-1zM116 305h1v1h-1zM142 305h1v1h-1zM186 305h1v1h-1zM521 305h3v1h-3zM113 306h7v1h-7zM142 306h1v1h-1zM185 306h1v1h-1zM520 306h7v1h-7zM115 307h3v1h-3zM142 307h1v1h-1zM184 307h1v1h-1zM523 307h2v1h-2zM114 308h1v1h-1zM116 308h1v1h-1zM118 308h1v1h-1zM142 308h1v1h-1zM183 308h1v1h-1zM523 308h1v1h-1zM525 308h1v1h-1zM113 309h1v1h-1zM116 309h1v1h-1zM118 309h1v1h-1zM142 309h1v1h-1zM182 309h1v1h-1zM523 309h1v1h-1zM526 309h1v1h-1zM112 310h1v1h-1zM119 310h1v1h-1zM139 310h7v1h-7zM180 310h2v1h-2zM527 310h1v1h-1zM111 311h1v1h-1zM120 311h1v1h-1zM140 311h5v1h-5zM179 311h1v1h-1zM528 311h1v1h-1zM110 312h1v1h-1zM121 312h1v1h-1zM141 312h3v1h-3zM178 312h1v1h-1zM529 312h1v1h-1zM109 313h1v1h-1zM121 313h1v1h-1zM142 313h1v1h-1zM177 313h1v1h-1zM530 313h1v1h-1zM108 314h1v1h-1zM122 314h1v1h-1zM176 314h1v1h-1zM531 314h1v1h-1zM107 315h1v1h-1zM123 315h1v1h-1zM175 315h1v1h-1zM532 315h1v1h-1zM106 316h1v1h-1zM124 316h1v1h-1zM174 316h1v1h-1zM533 316h1v1h-1zM105 317h1v1h-1zM124 317h1v1h-1zM173 317h1v1h-1zM534 317h1v1h-1zM104 318h1v1h-1zM125 318h1v1h-1zM172 318h1v1h-1zM535 318h1v1h-1zM103 319h1v1h-1zM126 319h1v1h-1zM171 319h1v1h-1zM102 320h1v1h-1zM127 320h1v1h-1zM167 320h1v1h-1zM170 320h1v1h-1zM101 321h1v1h-1zM127 321h1v1h-1zM167 321h1v1h-1zM169 321h1v1h-1zM100 322h1v1h-1zM128 322h1v1h-1zM167 322h2v1h-2zM99 323h1v1h-1zM129 323h1v1h-1zM164 323h7v1h-7zM98 324h1v1h-1zM130 324h1v1h-1zM165 324h3v1h-3zM97 325h1v1h-1zM131 325h1v1h-1zM164 325h1v1h-1zM167 325h1v1h-1zM96 326h1v1h-1zM131 326h1v1h-1zM162 326h2v1h-2zM167 326h1v1h-1zM95 327h1v1h-1zM132 327h1v1h-1zM161 327h1v1h-1zM91 328h1v1h-1zM94 328h1v1h-1zM133 328h1v1h-1zM159 328h2v1h-2zM91 329h1v1h-1zM93 329h1v1h-1zM134 329h1v1h-1zM158 329h1v1h-1zM91 330h2v1h-2zM134 330h1v1h-1zM156 330h2v1h-2zM88 331h7v1h-7zM135 331h1v1h-1zM155 331h1v1h-1zM87 332h3v1h-3zM91 332h1v1h-1zM136 332h1v1h-1zM154 332h1v1h-1zM83 333h4v1h-4zM91 333h1v1h-1zM137 333h1v1h-1zM152 333h2v1h-2zM80 334h3v1h-3zM91 334h1v1h-1zM137 334h1v1h-1zM151 334h1v1h-1zM79 335h1v1h-1zM138 335h1v1h-1zM149 335h2v1h-2zM139 336h1v1h-1zM148 336h1v1h-1zM140 337h1v1h-1zM142 337h1v1h-1zM146 337h2v1h-2zM140 338h1v1h-1zM142 338h1v1h-1zM145 338h1v1h-1zM141 339h4v1h-4zM139 340h7v1h-7zM142 341h1v1h-1zM142 342h1v1h-1zM142 343h1v1h-1z" fill="#9400d3" shape-rendering="crispEdges"/><path d="M494 34h1v1h-1zM494 35h1v1h-1zM494 36h1v1h-1zM491 37h7v1h-7zM494 38h1v1h-1zM494 39h1v1h-1zM494 40h1v1h-1zM91 143h1v1h-1zM116 143h1v1h-1zM142 143h1v1h-1zM167 143h1v1h-1zM193 143h1v1h-1zM218 143h1v1h-1zM294 143h1v1h-1zM345 143h1v1h-1zM523 143h1v1h-1zM91 144h1v1h-1zM116 144h1v1h-1zM142 144h1v1h-1zM167 144h1v1h-1zM193 144h1v1h-1zM218 144h1v1h-1zM243 144h1v1h-1zM269 144h1v1h-1zM294 144h1v1h-1zM320 144h1v1h-1zM345 144h1v1h-1zM523 144h1v1h-1zM91 145h1v1h-1zM116 145h1v1h-1zM142 145h1v1h-1zM167 145h1v1h-1zM193 145h1v1h-1zM218 145h1v1h-1zM243 145h1v1h-1zM269 145h1v1h-1zM294 145h1v1h-1zM320 145h1v1h-1zM345 145h1v1h-1zM371 145h1v1h-1zM396 145h1v1h-1zM422 145h1v1h-1zM447 145h1v1h-1zM472 145h1v1h-1zM498 145h1v1h-1zM523 145h1v1h-1zM88 146h7v1h-7zM113 146h7v1h-7zM139 146h7v1h-7zM164 146h7v1h-7zM190 146h7v1h-7zM215 146h7v1h-7zM241 146h5v1h-5zM267 146h5v1h-5zM291 146h7v1h-7zM318 146h5v1h-5zM342 146h7v1h-7zM371 146h1v1h-1zM396 146h1v1h-1zM422 146h1v1h-1zM447 146h1v1h-1zM472 146h1v1h-1zM498 146h1v1h-1zM520 146h7v1h-7zM91 147h1v1h-1zM116 147h1v1h-1zM142 147h1v1h-1zM167 147h1v1h-1zM193 147h1v1h-1zM218 147h1v1h-1zM243 147h1v1h-1zM269 147h1v1h-1zM294 147h1v1h-1zM320 147h1v1h-1zM345 147h1v1h-1zM371 147h1v1h-1zM396 147h1v1h-1zM422 147h1v1h-1zM447 147h1v1h-1zM472 147h1v1h-1zM498 147h1v1h-1zM523 147h1v1h-1zM91 148h1v1h-1zM116 148h1v1h-1zM142 148h1v1h-1zM167 148h1v1h-1zM193 148h1v1h-1zM218 148h1v1h-1zM243 148h1v1h-1zM269 148h1v1h-1zM294 148h1v1h-1zM320 148h1v1h-1zM345 148h1v1h-1zM369 148h5v1h-5zM393 148h7v1h-7zM419 148h7v1h-7zM444 148h7v1h-7zM469 148h7v1h-7zM495 148h7v1h-7zM523 148h1v1h-1zM91 149h1v1h-1zM116 149h1v1h-1zM142 149h1v1h-1zM167 149h1v1h-1zM193 149h1v1h-1zM218 149h1v1h-1zM294 149h1v1h-1zM345 149h1v1h-1zM396 149h1v1h-1zM422 149h1v1h-1zM447 149h1v1h-1zM472 149h1v1h-1zM498 149h1v1h-1zM523 149h1v1h-1zM371 150h1v1h-1zM422 150h1v1h-1zM447 150h1v1h-1zM472 150h1v1h-1zM498 150h1v1h-1zM371 151h1v1h-1zM396 151h1v1h-1zM422 151h1v1h-1zM447 151h1v1h-1zM472 151h1v1h-1zM498 151h1v1h-1z" fill="#009e73" shape-rendering="crispEdges"/><path d="M491 53h7v1h-7zM491 54h1v1h-1zM497 54h1v1h-1zM491 55h1v1h-1zM497 55h1v1h-1zM491 56h1v1h-1zM497 56h1v1h-1zM491 57h1v1h-1zM497 57h1v1h-1zM491 58h1v1h-1zM497 58h1v1h-1zM491 59h7v1h-7zM291 136h7v1h-7zM342 136h7v1h-7zM291 137h1v1h-1zM297 137h1v1h-1zM342 137h1v1h-1zM348 137h1v1h-1zM291 138h1v1h-1zM297 138h1v1h-1zM342 138h1v1h-1zM348 138h1v1h-1zM291 139h1v1h-1zM297 139h1v1h-1zM342 139h1v1h-1zM348 139h1v1h-1zM291 140h1v1h-1zM297 140h1v1h-1zM342 140h1v1h-1zM348 140h1v1h-1zM291 141h1v1h-1zM297 141h1v1h-1zM342 141h1v1h-1zM348 141h1v1h-1zM291 142h7v1h-7zM342 142h7v1h-7zM240 143h7v1h-7zM266 143h7v1h-7zM317 143h7v1h-7zM368 143h7v1h-7zM240 144h1v1h-1zM246 144h1v1h-1zM266 144h1v1h-1zM272 144h1v1h-1zM317 144h1v1h-1zM323 144h1v1h-1zM368 144h1v1h-1zM374 144h1v1h-1zM240 145h1v1h-1zM246 145h1v1h-1zM266 145h1v1h-1zM272 145h1v1h-1zM317 145h1v1h-1zM323 145h1v1h-1zM368 145h1v1h-1zM374 145h1v1h-1zM240 146h1v1h-1zM246 146h1v1h-1zM266 146h1v1h-1zM272 146h1v1h-1zM317 146h1v1h-1zM323 146h1v1h-1zM368 146h1v1h-1zM374 146h1v1h-1zM240 147h1v1h-1zM246 147h1v1h-1zM266 147h1v1h-1zM272 147h1v1h-1zM317 147h1v1h-1zM323 147h1v1h-1zM368 147h1v1h-1zM374 147h1v1h-1zM240 148h1v1h-1zM246 148h1v1h-1zM266 148h1v1h-1zM272 148h1v1h-1zM317 148h1v1h-1zM323 148h1v1h-1zM368 148h1v1h-1zM374 148h1v1h-1zM240 149h7v1h-7zM266 149h7v1h-7zM317 149h7v1h-7zM368 149h7v1h-7zM215 150h7v1h-7zM393 150h7v1h-7zM215 151h1v1h-1zM221 151h1v1h-1zM393 151h1v1h-1zM399 151h1v1h-1zM215 152h1v1h-1zM221 152h1v1h-1zM393 152h1v1h-1zM399 152h1v1h-1zM215 153h1v1h-1zM221 153h1v1h-1zM393 153h1v1h-1zM399 153h1v1h-1zM215 154h1v1h-1zM221 154h1v1h-1zM393 154h1v1h-1zM399 154h1v1h-1zM215 155h1v1h-1zM221 155h1v1h-1zM393 155h1v1h-1zM399 155h1v1h-1zM215 156h7v1h-7zM393 156h7v1h-7zM419 158h7v1h-7zM444 158h7v1h-7zM419 159h1v1h-1zM425 159h1v1h-1zM444 159h1v1h-1zM450 159h1v1h-1zM419 160h1v1h-1zM425 160h1v1h-1zM444 160h1v1h-1zM450 160h1v1h-1zM419 161h1v1h-1zM425 161h1v1h-1zM444 161h1v1h-1zM450 161h1v1h-1zM419 162h1v1h-1zM425 162h1v1h-1zM444 162h1v1h-1zM450 162h1v1h-1zM419 163h1v1h-1zM425 163h1v1h-1zM444 163h1v1h-1zM450 163h1v1h-1zM419 164h7v1h-7zM444 164h7v1h-7zM190 165h7v1h-7zM469 165h7v1h-7zM190 166h1v1h-1zM196 166h1v1h-1zM469 166h1v1h-1zM475 166h1v1h-1zM190 167h1v1h-1zM196 167h1v1h-1zM469 167h1v1h-1zM475 167h1v1h-1zM190 168h1v1h-1zM196 168h1v1h-1zM469 168h1v1h-1zM475 168h1v1h-1zM190 169h1v1h-1zM196 169h1v1h-1zM469 169h1v1h-1zM475 169h1v1h-1zM190 170h1v1h-1zM196 170h1v1h-1zM469 170h1v1h-1zM475 170h1v1h-1zM190 171h7v1h-7zM469 171h7v1h-7zM88 173h7v1h-7zM113 173h7v1h-7zM139 173h7v1h-7zM164 173h7v1h-7zM495 173h7v1h-7zM520 173h7v1h-7zM88 174h1v1h-1zM94 174h1v1h-1zM113 174h1v1h-1zM119 174h1v1h-1zM139 174h1v1h-1zM145 174h1v1h-1zM164 174h1v1h-1zM170 174h1v1h-1zM495 174h1v1h-1zM501 174h1v1h-1zM520 174h1v1h-1zM526 174h1v1h-1zM88 175h1v1h-1zM94 175h1v1h-1zM113 175h1v1h-1zM119 175h1v1h-1zM139 175h1v1h-1zM145 175h1v1h-1zM164 175h1v1h-1zM170 175h1v1h-1zM495 175h1v1h-1zM501 175h1v1h-1zM520 175h1v1h-1zM526 175h1v1h-1zM88 176h1v1h-1zM94 176h1v1h-1zM113 176h1v1h-1zM119 176h1v1h-1zM139 176h1v1h-1zM145 176h1v1h-1zM164 176h1v1h-1zM170 176h1v1h-1zM495 176h1v1h-1zM501 176h1v1h-1zM520 176h1v1h-1zM526 176h1v1h-1zM88 177h1v1h-1zM94 177h1v1h-1zM113 177h1v1h-1zM119 177h1v1h-1zM139 177h1v1h-1zM145 177h1v1h-1zM164 177h1v1h-1zM170 177h1v1h-1zM495 177h1v1h-1zM501 177h1v1h-1zM520 177h1v1h-1zM526 177h1v1h-1zM88 178h1v1h-1zM94 178h1v1h-1zM113 178h1v1h-1zM119 178h1v1h-1zM139 178h1v1h-1zM145 178h1v1h-1zM164 178h1v1h-1zM170 178h1v1h-1zM495 178h1v1h-1zM501 178h1v1h-1zM520 178h1v1h-1zM526 178h1v1h-1zM88 179h7v1h-7zM113 179h7v1h-7zM139 179h7v1h-7zM164 179h7v1h-7zM495 179h7v1h-7zM520 179h7v1h-7z" fill="#56b4e9" shape-rendering="crispEdges"/></svg></body></html>
